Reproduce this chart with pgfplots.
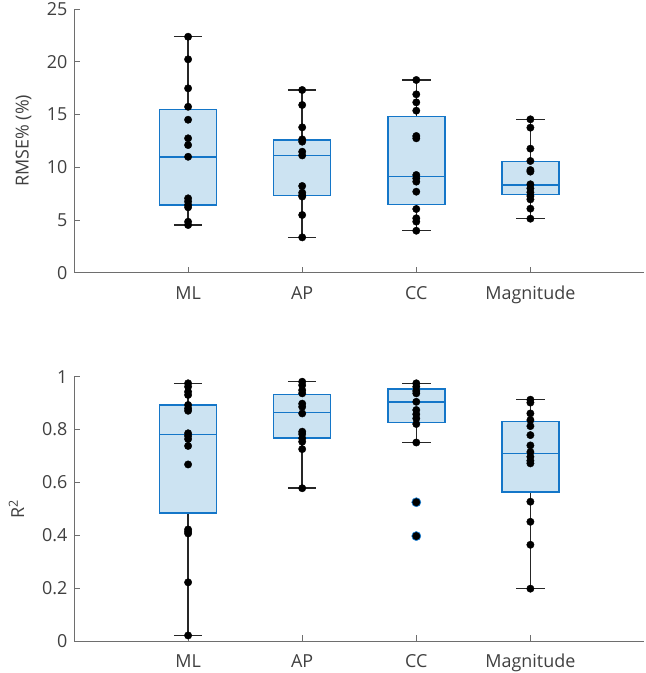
\documentclass[border=0pt]{standalone}
\usepackage{fontspec}
\setmainfont{Open Sans}
\usepackage{pgfplots}
\pgfplotsset{compat=1.18}
\usepgfplotslibrary{statistics}
\definecolor{boxblue}{RGB}{20,118,200}
\definecolor{boxfill}{RGB}{204,227,242}
\definecolor{txt}{RGB}{64,64,64}
\definecolor{axc}{RGB}{110,110,110}
\newcommand{\lblfont}{\fontsize{18}{21}\selectfont}
\pgfplotsset{
 myaxis/.style={
  scale only axis, width=570.5bp,
  xmin=0, xmax=5, xtick={1,2,3,4}, xticklabels={ML,AP,CC,Magnitude},
  axis lines*=left, axis line style={axc, line width=0.7bp},
  tick align=inside, major tick length=6bp, tick style={axc, line width=0.7bp},
  every tick label/.append style={font=\lblfont, text=txt},
  /pgf/number format/assume math mode=true,
  xticklabel style={anchor=base, yshift=-26.5bp},
  yticklabel style={xshift=-3bp},
  clip=false,
  boxplot/draw direction=y,
  boxplot/every box/.style={draw=boxblue, fill=boxfill, line width=1.5bp},
  boxplot/every median/.style={draw=boxblue, line width=1.5bp},
  boxplot/every whisker/.style={draw=black!85, line width=1.5bp},
  boxplot/box extend=0.5, boxplot/whisker extend=0.25,
 },
 dots/.style={only marks, mark=*, mark size=3.7bp, mark options={fill=black, draw=black}},
}
\begin{document}
\begin{tikzpicture}
\path[use as bounding box] (0,0) rectangle (646bp,673bp);
% ---------- top: RMSE% ----------
\begin{axis}[myaxis, at={(74bp,400.3bp)}, anchor=south west, height=263.7bp,
  ymin=0, ymax=25, ytick={0,5,10,15,20,25},
  ylabel={RMSE\% (\%)},
  every axis y label/.style={at={(axis description cs:-0.0885,0.5)}, rotate=90, anchor=center, font=\lblfont, text=txt}]
\addplot[boxplot prepared={draw position=1, lower whisker=4.52, lower quartile=6.42, median=10.99, upper quartile=15.49, upper whisker=22.37}] coordinates {};
\addplot[boxplot prepared={draw position=2, lower whisker=3.35, lower quartile=7.33, median=11.13, upper quartile=12.58, upper whisker=17.32}] coordinates {};
\addplot[boxplot prepared={draw position=3, lower whisker=3.98, lower quartile=6.45, median=9.10, upper quartile=14.79, upper whisker=18.27}] coordinates {};
\addplot[boxplot prepared={draw position=4, lower whisker=5.12, lower quartile=7.43, median=8.31, upper quartile=10.56, upper whisker=14.54}] coordinates {};
\addplot[dots] coordinates {(1,22.37)(1,20.23)(1,17.48)(1,15.73)(1,14.50)(1,12.74)(1,12.10)(1,10.99)(1,7.05)(1,6.75)(1,6.42)(1,6.20)(1,4.83)(1,4.52)};
\addplot[dots] coordinates {(2,17.32)(2,15.90)(2,13.78)(2,12.64)(2,12.42)(2,11.47)(2,11.12)(2,8.22)(2,7.59)(2,7.33)(2,7.22)(2,5.47)(2,3.35)};
\addplot[dots] coordinates {(3,18.27)(3,16.91)(3,16.15)(3,15.36)(3,12.96)(3,12.74)(3,9.26)(3,8.95)(3,8.63)(3,7.68)(3,6.04)(3,5.16)(3,4.84)(3,3.98)};
\addplot[dots] coordinates {(4,14.54)(4,13.75)(4,11.76)(4,10.59)(4,9.73)(4,9.58)(4,8.38)(4,8.00)(4,7.62)(4,7.27)(4,6.95)(4,6.07)(4,5.12)};
\end{axis}
% ---------- bottom: R^2 ----------
\begin{axis}[myaxis, at={(74bp,32bp)}, anchor=south west, height=264.3bp,
  ymin=0, ymax=1, ytick={0,0.2,0.4,0.6,0.8,1},
  ylabel={R\textsuperscript{2}},
  every axis y label/.style={at={(axis description cs:-0.1008,0.5)}, rotate=90, anchor=center, font=\lblfont, text=txt}]
\addplot[boxplot prepared={draw position=1, lower whisker=0.021, lower quartile=0.484, median=0.781, upper quartile=0.893, upper whisker=0.975}] coordinates {};
\addplot[boxplot prepared={draw position=2, lower whisker=0.578, lower quartile=0.768, median=0.865, upper quartile=0.933, upper whisker=0.981}] coordinates {};
\addplot[boxplot prepared={draw position=3, lower whisker=0.751, lower quartile=0.827, median=0.905, upper quartile=0.953, upper whisker=0.975}] coordinates {};
\addplot[boxplot prepared={draw position=4, lower whisker=0.198, lower quartile=0.564, median=0.710, upper quartile=0.831, upper whisker=0.913}] coordinates {};
\addplot[only marks, mark=*, mark size=4.6bp, mark options={fill=boxblue, draw=boxblue}] coordinates {(3,0.525)(3,0.397)};
\addplot[dots] coordinates {(1,0.975)(1,0.962)(1,0.943)(1,0.931)(1,0.893)(1,0.880)(1,0.871)(1,0.786)(1,0.776)(1,0.764)(1,0.738)(1,0.668)(1,0.422)(1,0.414)(1,0.407)(1,0.222)(1,0.021)};
\addplot[dots] coordinates {(2,0.981)(2,0.968)(2,0.949)(2,0.937)(2,0.898)(2,0.886)(2,0.861)(2,0.792)(2,0.783)(2,0.767)(2,0.754)(2,0.726)(2,0.578)};
\addplot[dots] coordinates {(3,0.975)(3,0.962)(3,0.946)(3,0.937)(3,0.905)(3,0.874)(3,0.858)(3,0.842)(3,0.821)(3,0.751)(3,0.525)(3,0.397)};
\addplot[dots] coordinates {(4,0.913)(4,0.902)(4,0.861)(4,0.836)(4,0.813)(4,0.779)(4,0.740)(4,0.715)(4,0.697)(4,0.682)(4,0.672)(4,0.527)(4,0.451)(4,0.364)(4,0.198)};
\end{axis}
\end{tikzpicture}
\end{document}
